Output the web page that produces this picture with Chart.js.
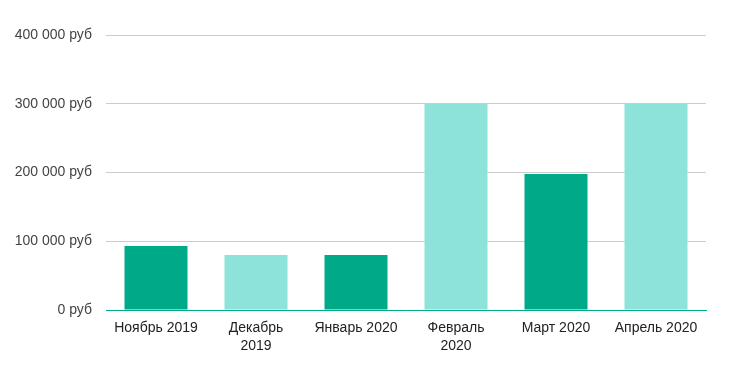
<!DOCTYPE html>
<html>
<head>
<meta charset="utf-8">
<script src="https://cdn.jsdelivr.net/npm/chart.js@4/dist/chart.umd.min.js"></script>
<style>
  html, body { margin: 0; padding: 0; background: #fff; }
  #wrap { width: 737px; height: 371px; }
</style>
</head>
<body>
<div id="wrap"><canvas id="salesChart"></canvas></div>
<script>
// months (multi-line where the original wraps)
const months = [
    'Ноябрь 2019',
    ['Декабрь', '2019'],
    'Январь 2020',
    ['Февраль', '2020'],
    'Март 2020',
    'Апрель 2020'
];
const amounts = [93000, 80000, 80000, 300000, 198000, 300000];
const barColors = ['#00aa88', '#8de3d9', '#00aa88', '#8de3d9', '#00aa88', '#8de3d9'];
const yTicks = [0, 100000, 200000, 300000, 400000];

// "400 000 руб"
function formatRub(v) {
    return String(v).replace(/\B(?=(\d{3})+(?!\d))/g, ' ') + ' руб';
}

Chart.defaults.font.family = "'Liberation Sans', Arial, sans-serif";
Chart.defaults.font.size = 14;

new Chart(document.getElementById('salesChart'), {
    type: 'bar',
    data: {
        labels: months,
        datasets: [{
            data: amounts,
            backgroundColor: barColors,
            borderWidth: 0,
            barPercentage: 0.63,
            categoryPercentage: 1
        }]
    },
    options: {
        responsive: true,
        maintainAspectRatio: false,
        animation: false,
        layout: {
            padding: { left: 15, right: 31, top: 35, bottom: 0 }
        },
        plugins: {
            legend: { display: false },
            tooltip: { enabled: false }
        },
        scales: {
            x: {
                afterFit: scale => { scale.height = 61; },
                grid: { display: false, drawTicks: false },
                border: { color: '#00aa88', width: 1 },
                ticks: {
                    color: '#222',
                    padding: 9,
                    font: { lineHeight: 1.3 },
                    maxRotation: 0,
                    autoSkip: false
                }
            },
            y: {
                min: 0,
                max: 400000,
                afterBuildTicks: scale => {
                    scale.ticks = yTicks.map(v => ({ value: v }));
                },
                afterFit: scale => { scale.width = 91; },
                grid: { color: '#cccccc', drawTicks: false },
                border: { display: false },
                ticks: {
                    color: '#444',
                    padding: 14,
                    callback: v => formatRub(v)
                }
            }
        }
    }
});
</script>
</body>
</html>
